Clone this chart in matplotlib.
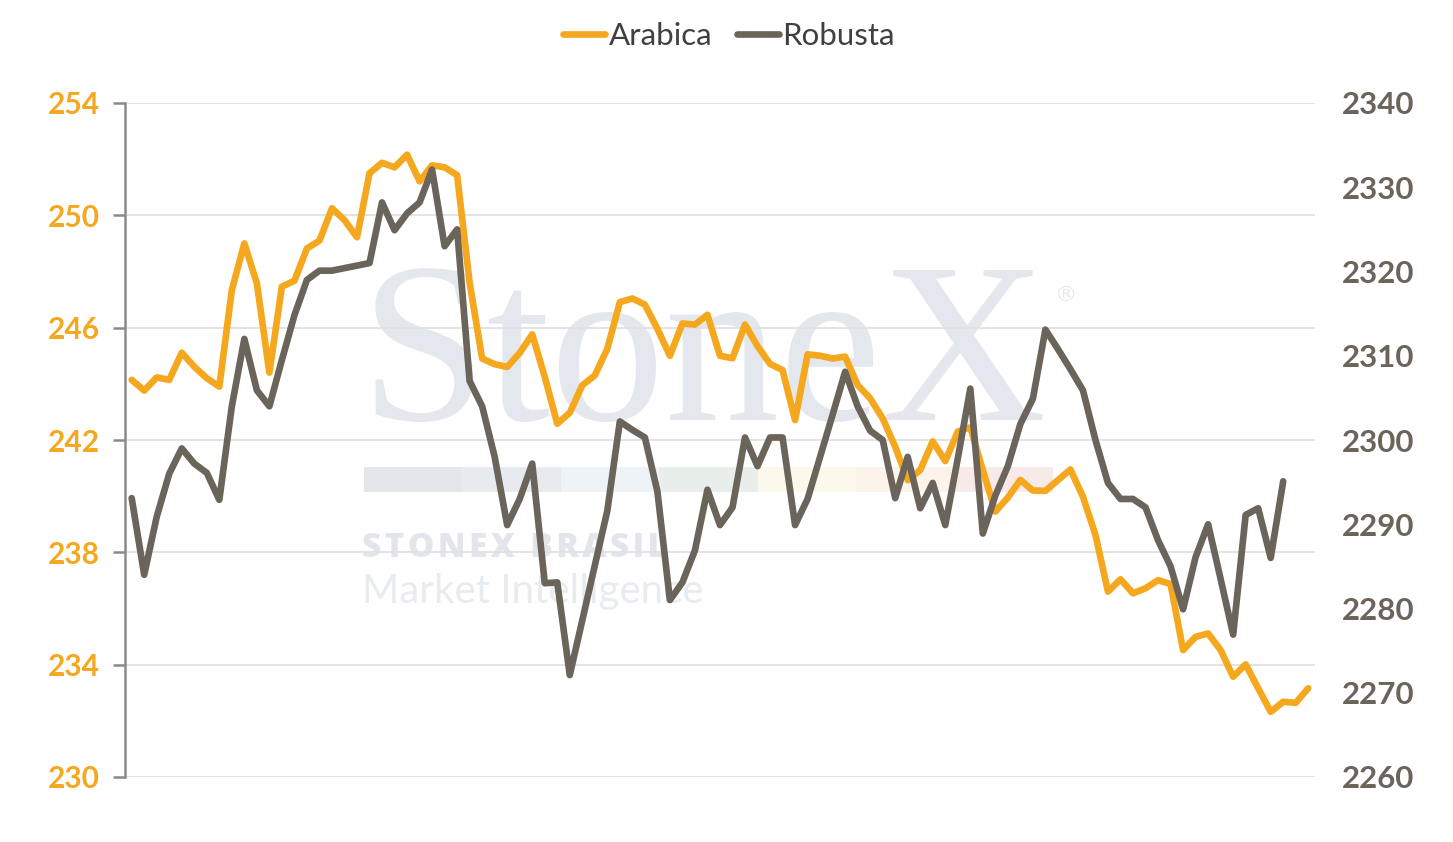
import numpy as np
import matplotlib
matplotlib.use("Agg")
import matplotlib.pyplot as plt
from matplotlib.patches import Rectangle
from matplotlib.lines import Line2D

# ---------------- data ----------------
arabica = [
    244.14, 243.76, 244.23, 244.14, 245.11, 244.61, 244.20, 243.90, 247.34, 249.00,
    247.58, 244.40, 247.46, 247.67, 248.82, 249.10, 250.25, 249.83, 249.22, 251.50,
    251.87, 251.71, 252.16, 251.21, 251.78, 251.71, 251.43, 247.60, 244.90, 244.70,
    244.60, 245.10, 245.76, 244.25, 242.58, 242.97, 243.95, 244.30, 245.25, 246.91,
    247.04, 246.82, 245.96, 245.00, 246.15, 246.11, 246.46, 245.00, 244.91, 246.11,
    245.34, 244.71, 244.49, 242.71, 245.05, 245.00, 244.90, 244.97, 243.96, 243.48,
    242.77, 241.76, 240.57, 240.93, 241.95, 241.25, 242.30, 242.45, 240.93, 239.45,
    239.95, 240.58, 240.20, 240.19, 240.57, 240.95, 239.98, 238.62, 236.60, 237.04,
    236.54, 236.72, 237.01, 236.87, 234.52, 234.99, 235.11, 234.52, 233.57, 234.01,
    233.16, 232.32, 232.68, 232.64, 233.16,
]
robusta = [
    2293.1, 2284.0, 2290.9, 2296.0, 2299.0, 2297.2, 2296.1, 2292.9, 2304.0, 2312.0,
    2305.9, 2304.0, 2309.5, 2314.8, 2319.0, 2320.1, 2320.1, 2320.4, 2320.7, 2321.0,
    2328.2, 2324.9, 2326.9, 2328.2, 2332.1, 2323.0, 2325.0, 2307.0, 2304.0, 2298.0,
    2289.9, 2293.0, 2297.2, 2283.0, 2283.1, 2272.1, 2278.6, 2285.1, 2291.6, 2302.2,
    2301.2, 2300.3, 2293.9, 2281.0, 2283.1, 2286.9, 2294.1, 2289.9, 2292.0, 2300.3,
    2296.9, 2300.3, 2300.3, 2289.9, 2293.0, 2298.0, 2303.0, 2308.1, 2304.0, 2301.1,
    2300.0, 2293.1, 2298.0, 2291.9, 2294.9, 2289.9, 2297.8, 2306.1, 2288.9, 2293.4,
    2296.9, 2301.9, 2304.9, 2313.1, 2310.8, 2308.4, 2305.9, 2300.0, 2294.9, 2293.0,
    2293.0, 2292.0, 2288.1, 2285.0, 2279.9, 2286.1, 2290.0, 2283.5, 2276.9, 2291.1,
    2291.9, 2286.0, 2295.1, np.nan, np.nan,
]
series_names = ["Arabica", "Robusta"]
left_ticks = [230, 234, 238, 242, 246, 250, 254]
right_ticks = [2260, 2270, 2280, 2290, 2300, 2310, 2320, 2330, 2340]

ORANGE = "#F5A71E"
BROWN = "#6B645A"
LW = 4.8

plt.rcParams["font.family"] = ["Lato", "DejaVu Sans"]

W, H = 1453, 842
fig = plt.figure(figsize=(W / 100, H / 100), dpi=100)


def fx(px):
    return px / W


def fy(py):
    return 1 - py / H


ax = fig.add_axes([fx(125), fy(777), fx(1315) - fx(125), fy(103) - fy(777)])
x = np.arange(len(arabica))

# ---------------- watermark ----------------
wm = "#e4e8ee"
ax.text(fx(360), fy(420), "StoneX", transform=fig.transFigure, fontsize=165,
        family="Liberation Serif", color=wm, va="baseline", ha="left", zorder=0.2)
ax.text(fx(1055), fy(295), "®", transform=fig.transFigure, fontsize=16,
        family="DejaVu Sans", color=wm, va="center", ha="left", zorder=0.2)
bar_cols = ["#e3e7ec", "#e7ebf0", "#eef3f8", "#e8efeb", "#fcf8ec", "#fcf4ea", "#f9eaea"]
seg_w = (1053 - 364) / len(bar_cols)
for i, c in enumerate(bar_cols):
    ax.add_patch(Rectangle((fx(364 + i * seg_w), fy(492)), seg_w / W, 25 / H,
                           transform=fig.transFigure, facecolor=c, edgecolor="none",
                           zorder=0.2))
ax.text(fx(362), fy(548), "\u200a".join("STONEX BRASIL"),
        transform=fig.transFigure, fontsize=24, family="Open Sans", weight="heavy",
        color="#e2e6ec", va="center", ha="left", zorder=0.2)
ax.text(fx(362), fy(591), "Market Intelligence", transform=fig.transFigure,
        fontsize=29, family="Lato", weight="normal", color="#e8ecf0",
        va="center", ha="left", zorder=0.2)

# ---------------- Arabica (left axis) ----------------
ax.plot(x, arabica, color=ORANGE, lw=LW, solid_joinstyle="round",
        solid_capstyle="round", zorder=3)
ax.set_xlim(-0.535, len(arabica) - 1 + 0.54)
ax.set_ylim(230, 254)
ax.set_yticks(left_ticks)
ax.grid(axis="y", color="#e1e1e1", lw=1.3)
ax.set_axisbelow(True)
ax.tick_params(axis="y", length=9, width=1.8, color="#8a8a8a", pad=9,
               labelcolor=ORANGE, labelsize=21.5)
ax.tick_params(axis="x", bottom=False, labelbottom=False)
for s in ["top", "right", "bottom"]:
    ax.spines[s].set_visible(False)
ax.spines["left"].set_color("#8a8a8a")
ax.spines["left"].set_linewidth(1.8)
for lbl in ax.get_yticklabels():
    lbl.set_fontweight("bold")

# ---------------- Robusta (right axis) ----------------
ax2 = ax.twinx()
ax2.plot(x, robusta, color=BROWN, lw=LW, solid_joinstyle="round",
         solid_capstyle="round", zorder=3)
ax2.set_ylim(2260, 2340)
ax2.set_yticks(right_ticks)
ax2.tick_params(axis="y", length=0, pad=19.5, labelcolor=BROWN, labelsize=22.5)
for s in ["top", "right", "bottom", "left"]:
    ax2.spines[s].set_visible(False)
for lbl in ax2.get_yticklabels():
    lbl.set_fontweight("bold")

# ---------------- legend ----------------
handles = [Line2D([0], [0], color=ORANGE, lw=LW, solid_capstyle="round"),
           Line2D([0], [0], color=BROWN, lw=LW, solid_capstyle="round")]
leg = fig.legend(handles, series_names, loc="center", bbox_to_anchor=(fx(729), fy(36)),
                 ncol=2, frameon=False, fontsize=22.5, handlelength=1.35,
                 handletextpad=0.1, columnspacing=0.8)
for t in leg.get_texts():
    t.set_color("#404040")

fig.savefig("out.png", dpi=100)
